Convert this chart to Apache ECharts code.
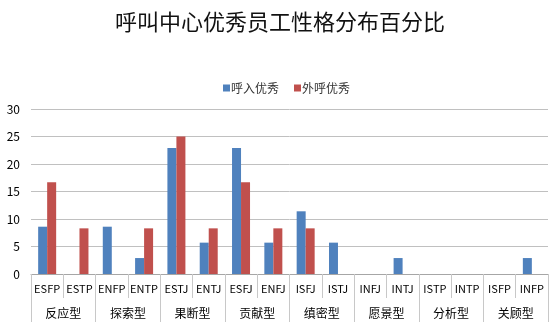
<!DOCTYPE html>
<html>
<head>
<meta charset="utf-8">
<script src="https://cdn.jsdelivr.net/npm/echarts@6/dist/echarts.min.js"></script>
<style>
  html, body { margin: 0; padding: 0; background: #fff; }
  #chart { width: 560px; height: 328px; }
</style>
</head>
<body>
<div id="chart"></div>
<script>
// MBTI types along the axis, and the temperament group each pair belongs to
const types = ['ESFP', 'ESTP', 'ENFP', 'ENTP', 'ESTJ', 'ENTJ', 'ESFJ', 'ENFJ',
               'ISFJ', 'ISTJ', 'INFJ', 'INTJ', 'ISTP', 'INTP', 'ISFP', 'INFP'];
const groups = ['反应型', '探索型', '果断型', '贡献型', '缜密型', '愿景型', '分析型', '关顾型'];

// Percent of top performers per type
const inbound  = [8.6, 0, 8.6, 2.9, 22.9, 5.7, 22.9, 5.7, 11.4, 5.7, 0, 2.9, 0, 0, 0, 2.9];
const outbound = [16.7, 8.3, 0, 8.3, 25, 8.3, 16.7, 8.3, 8.3, 0, 0, 0, 0, 0, 0, 0];

const yTicks = { min: 0, max: 30, interval: 5 };

const font = '"Noto Sans CJK SC", "Noto Sans", sans-serif';
const chart = echarts.init(document.getElementById('chart'), null, { renderer: 'canvas' });

chart.setOption({
  backgroundColor: '#ffffff',
  animation: false,
  textStyle: { fontFamily: font },
  title: {
    text: '呼叫中心优秀员工性格分布百分比',
    left: 'center',
    top: 6,
    textStyle: { fontSize: 22, fontWeight: 'normal', color: '#111', fontFamily: font }
  },
  legend: {
    data: ['呼入优秀', '外呼优秀'],
    left: 218,
    top: 77,
    itemWidth: 7,
    itemHeight: 7,
    itemGap: 15,
    icon: 'rect',
    textStyle: { fontSize: 12, color: '#333', padding: [0, 0, 0, -4] }
  },
  grid: { left: 31, right: 12, top: 109, bottom: 54, containLabel: false },
  xAxis: [
    {
      type: 'category',
      data: types,
      position: 'bottom',
      axisLine: { lineStyle: { color: '#a6a6a6', width: 1 } },
      axisTick: { show: true, length: 24, alignWithLabel: false, lineStyle: { color: '#c8c8c8' } },
      axisLabel: { fontSize: 11, color: '#000', margin: 9, interval: 0 }
    },
    {
      type: 'category',
      data: groups,
      position: 'bottom',
      offset: 24,
      axisLine: { show: false },
      axisTick: { show: true, length: 24, alignWithLabel: false, lineStyle: { color: '#c8c8c8' } },
      axisLabel: { fontSize: 12, color: '#000', margin: 9, interval: 0 }
    }
  ],
  yAxis: {
    type: 'value',
    min: yTicks.min,
    max: yTicks.max,
    interval: yTicks.interval,
    axisLine: { show: false },
    axisTick: { show: false },
    axisLabel: { fontSize: 12, color: '#000', margin: 11 },
    splitLine: { lineStyle: { color: '#c0c0c0', width: 1 } }
  },
  series: [
    {
      name: '呼入优秀',
      type: 'bar',
      xAxisIndex: 0,
      data: inbound,
      barWidth: 9,
      barGap: '0%',
      itemStyle: { color: '#4f81bd' }
    },
    {
      name: '外呼优秀',
      type: 'bar',
      xAxisIndex: 0,
      data: outbound,
      barWidth: 9,
      barGap: '0%',
      itemStyle: { color: '#c0504d' }
    }
  ]
});
</script>
</body>
</html>
